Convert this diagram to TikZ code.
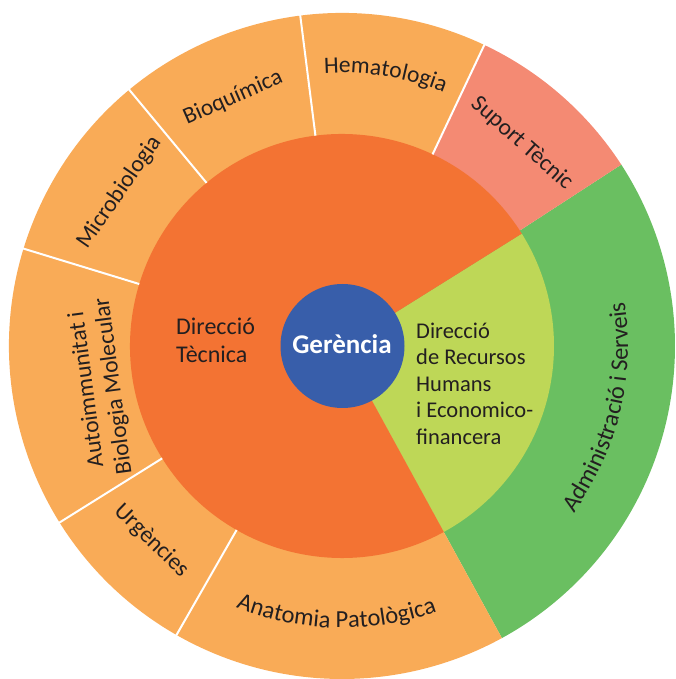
\documentclass[tikz,border=0pt]{standalone}
\usepackage{fontspec}
\setmainfont{Carlito}
\usetikzlibrary{decorations.text}
\definecolor{lor}{HTML}{F9AB57}
\definecolor{org}{HTML}{F37333}
\definecolor{sal}{HTML}{F48A73}
\definecolor{grn}{HTML}{6ABF61}
\definecolor{lgr}{HTML}{BED757}
\definecolor{blu}{HTML}{385EAA}
\definecolor{txt}{HTML}{231F20}
\newcommand\mysector[4]{\fill[#1] (0,0) -- (#2:#4) arc[start angle=#2, end angle=#3, radius=#4] -- cycle;}
\newcommand\arclabel[5]{\path[decorate, decoration={text along path, text align=center, text color=txt, text={|\fontsize{#4}{27}\selectfont|#5}}] (#1:#3) arc[start angle=#1, end angle=#2, radius=#3];}
\begin{document}
\begin{tikzpicture}[x=1pt,y=1pt,
  ringlbl/.style={text=txt, font=\fontsize{23.5}{27}\selectfont, inner sep=0pt},
  ctrlbl/.style={text=txt, font=\fontsize{22.5}{26.5}\selectfont, inner sep=0pt, anchor=base west},
  sepline/.style={white, line width=2pt}]
\useasboundingbox (-342,-333) rectangle (333,346);
% outer ring
\mysector{grn}{-61.3}{33}{333pt}
\mysector{sal}{33}{64.7}{333pt}
\mysector{lor}{64.7}{298.7}{333pt}
% middle ring
\mysector{lgr}{-61.3}{32}{212pt}
\mysector{org}{32}{298.7}{212pt}
% separators
\foreach \ang in {64.7,97.2,129.7,163,212,240.2}
  \draw[sepline] (\ang:212pt) -- (\ang:335pt);
% centre
\fill[blu] (0.5,0) circle[radius=62pt];
\node[font=\bfseries\fontsize{27}{30}\selectfont, text=white, anchor=base, inner sep=0pt] (ger) at (0,-7.3) {Gerència};
% direcció tècnica
\node[ctrlbl, font=\fontsize{24}{27}\selectfont] (dt1) at (-166,11) {Direcció};
\node[ctrlbl, font=\fontsize{24}{27}\selectfont] (dt2) at (-166,-16.3) {Tècnica};
% direcció rrhh
\node[ctrlbl] (rh1) at (74,7.7) {Direcció};
\node[ctrlbl] (rh2) at (74,-18.8) {de Recursos};
\node[ctrlbl] (rh3) at (74,-45.3) {Humans};
\node[ctrlbl] (rh4) at (74,-71.8) {i Economico-};
\node[ctrlbl] (rh5) at (74,-98.3) {financera};
% outer labels
\node[ringlbl, rotate=23.7] (bio) at (113.7:271pt) {Bioquímica};
\node[ringlbl, rotate=55.4] (mic) at (145.4:270.6pt) {Microbiologia};
\node[ringlbl, rotate=-41.6] (sup) at (48.4:271pt) {Suport Tècnic};
\node[ringlbl, rotate=-44.3] (urg) at (225.7:272.3pt) {Urgències};
\node[ringlbl, rotate=97.5, align=center] (aut) at (189.8:245pt) {Autoimmunitat i\\Biologia Molecular};
\arclabel{105.9}{55.9}{273pt}{23.5}{Hematologia}
\arclabel{238.8}{298.8}{282pt}{24.5}{Anatomia Patològica}
\arclabel{-43.45}{16.55}{286pt}{24.3}{Administració i Serveis}
\end{tikzpicture}
\end{document}
